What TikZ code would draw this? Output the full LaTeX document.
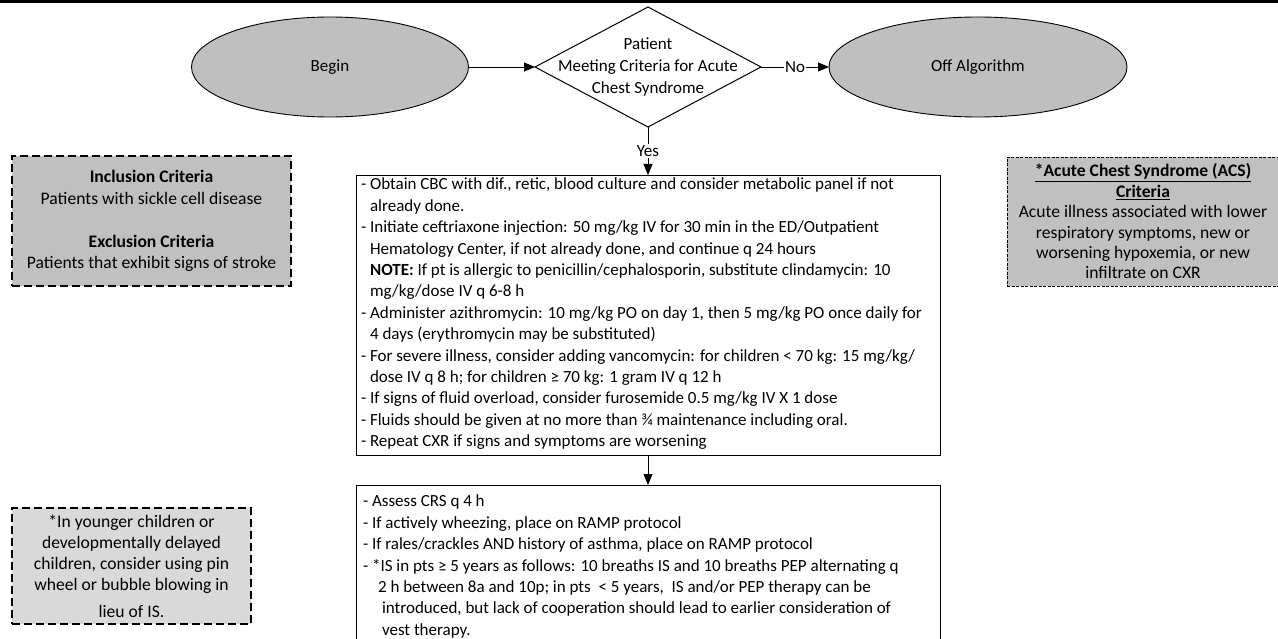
\documentclass[tikz,border=0pt]{standalone}
\usepackage{fontspec}
\setmainfont{Carlito}
\usetikzlibrary{shapes.geometric,arrows.meta}
\definecolor{termgray}{RGB}{191,191,191}
\definecolor{notegray}{RGB}{192,192,192}
\definecolor{lightnote}{RGB}{217,217,217}
\newcommand{\hang}{\hphantom{- }}
\begin{document}
\begin{tikzpicture}[x=1pt,y=-1pt,
  every node/.style={inner sep=0pt, outer sep=0pt},
  term/.style={ellipse, draw, fill=termgray, line width=0.9pt, minimum height=100pt, font=\fontsize{17}{21}\selectfont},
  decision/.style={diamond, draw, line width=1pt, minimum width=226pt, minimum height=120pt},
  procbox/.style={rectangle, draw, line width=0.8pt, anchor=north west},
  bodytext/.style={anchor=north west, align=left, font=\fontsize{17}{21.4}\selectfont},
  notebox/.style={rectangle, draw, fill=notegray, line width=1.2pt, dash pattern=on 8pt off 4pt, anchor=north west},
  finebox/.style={rectangle, draw, fill=notegray, line width=0.7pt, dash pattern=on 3pt off 1.5pt, anchor=north west},
  notetext/.style={align=center, font=\fontsize{17.6}{21.4}\selectfont},
  flow/.style={line width=0.8pt, -{Triangle[length=11pt,width=9pt]}},
  lbl/.style={fill=white, inner sep=1.5pt, font=\fontsize{17}{20}\selectfont}
]
\useasboundingbox (0,0) rectangle (1278,639);
\fill[white] (0,0) rectangle (1278,639);

% terminals and decision
\node[term, minimum width=277pt] (begin) at (330,67) {Begin};
\node[decision] (dec) at (648,67) {};
\node[align=center, font=\fontsize{17}{22}\selectfont] (dect) at (648,67) {Patient\\Meeting Criteria for Acute\\Chest Syndrome};
\node[term, minimum width=298pt] (off) at (978,67) {Off Algorithm};

% process boxes
\node[procbox, minimum width=584pt, minimum height=280pt] (b1) at (356,175) {};
\node[bodytext] (b1t) at (361,178) {%
- Obtain CBC with dif., retic, blood culture and consider metabolic panel if not\\
\hang already done.\\
- Initiate ceftriaxone injection: 50 mg/kg IV for 30 min in the ED/Outpatient\\
\hang Hematology Center, if not already done, and continue q 24 hours\\
\hang\textbf{NOTE:} If pt is allergic to penicillin/cephalosporin, substitute clindamycin: 10\\
\hang mg/kg/dose IV q 6-8 h\\
- Administer azithromycin: 10 mg/kg PO on day 1, then 5 mg/kg PO once daily for\\
\hang 4 days (erythromycin may be substituted)\\
- For severe illness, consider adding vancomycin: for children < 70 kg: 15 mg/kg/\\
\hang dose IV q 8 h; for children ≥ 70 kg: 1 gram IV q 12 h\\
- If signs of fluid overload, consider furosemide 0.5 mg/kg IV X 1 dose\\
- Fluids should be given at no more than ¾ maintenance including oral.\\
- Repeat CXR if signs and symptoms are worsening};

\node[procbox, minimum width=584pt, minimum height=170pt] (b2) at (356,485) {};
\node[bodytext] (b2t) at (363,495) {%
- Assess CRS q 4 h\\
- If actively wheezing, place on RAMP protocol\\
- If rales/crackles AND history of asthma, place on RAMP protocol\\
- *IS in pts ≥ 5 years as follows: 10 breaths IS and 10 breaths PEP alternating q\\
\hang\hspace*{6pt}2 h between 8a and 10p; in pts \ < 5 years, \ IS and/or PEP therapy can be\\
\hang\hspace*{10pt}introduced, but lack of cooperation should lead to earlier consideration of\\
\hang\hspace*{10pt}vest therapy.};

% side notes
\node[notebox, minimum width=279pt, minimum height=130pt] (inc) at (12,156) {};
\node[notetext] (inct) at (inc.center) {\textbf{Inclusion Criteria}\\Patients with sickle cell disease\\[21.4pt]\textbf{Exclusion Criteria}\\Patients that exhibit signs of stroke};

\node[finebox, minimum width=272pt, minimum height=129pt] (acs) at (1007,157) {};
\node[notetext, font=\fontsize{17.6}{20.4}\selectfont] (acst) at (acs.center) {\underline{\textbf{*Acute Chest Syndrome (ACS)}}\\\underline{\textbf{Criteria}}\\Acute illness associated with lower\\respiratory symptoms, new or\\worsening hypoxemia, or new\\infiltrate on CXR};

\node[notebox, fill=lightnote, minimum width=239pt, minimum height=116pt] (yc) at (12,508) {};
\node[notetext, font=\fontsize{17.6}{21}\selectfont] (yct) at (yc.center) {*In younger children or\\developmentally delayed\\children, consider using pin\\wheel or bubble blowing in\\[6pt]lieu of IS.};

% connectors
\draw[flow] (begin.east) -- (dec.west);
\draw[flow] (dec.east) -- node[lbl] (no) {No} (off.west);
\draw[flow] (dec.south) -- node[lbl, pos=0.5] (yes) {Yes} (dec.south |- b1.north);
\draw[flow] (dec.south |- b1.south) -- (dec.south |- b2.north);

% top black band
\fill[black] (0,0) rectangle (1278,3.5);
\end{tikzpicture}
\end{document}
